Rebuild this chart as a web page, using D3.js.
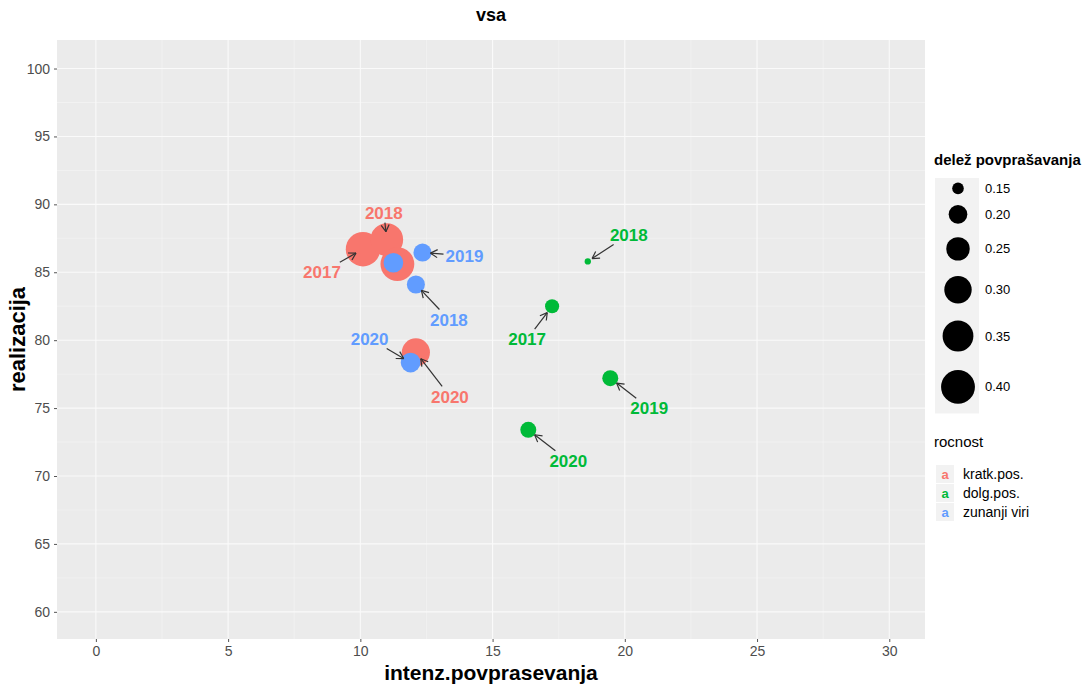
<!DOCTYPE html>
<html>
<head>
<meta charset="utf-8">
<script src="https://cdn.jsdelivr.net/npm/d3@7"></script>
<style>
  body { margin: 0; background: #fff; }
  text { font-family: "Liberation Sans", Arial, sans-serif; }
</style>
</head>
<body>
<div id="canvas"></div>
<script>
// data
var years = ['2017', '2018', '2019', '2020'];
var groups = ['kratk.pos.', 'dolg.pos.', 'zunanji viri'];
var groupColors = ['#F8766D', '#00BA38', '#619CFF'];

var intenzKratk = [10.1, 11.0, 11.4, 12.1];
var realKratk   = [86.7, 87.4, 85.6, 79.1];
var delezKratk  = [0.41, 0.38, 0.40, 0.31];

var intenzDolg = [17.25, 18.6, 19.45, 16.35];
var realDolg   = [82.5, 85.8, 77.2, 73.4];
var delezDolg  = [0.165, 0.13, 0.178, 0.178];

var intenzZun = [11.25, 12.1, 12.35, 11.9];
var realZun   = [85.7, 84.1, 86.45, 78.35];
var delezZun  = [0.21, 0.195, 0.195, 0.21];

// which points got a (repelled) label, and where it was pushed to (px)
var labelShown = [[1, 1, 0, 1], [1, 1, 1, 1], [0, 1, 1, 1]];
var labelNudge = [
  [[-41, 23], [-3, -27], null, [34, 44]],
  [[-25, 33], [41, -27], [39, 30], [40, 31]],
  [null, [33, 35], [42, 3], [-41, -24]]
];

var xTicks = [0, 5, 10, 15, 20, 25, 30];
var yTicks = [60, 65, 70, 75, 80, 85, 90, 95, 100];
var sizeBreaks = [0.15, 0.20, 0.25, 0.30, 0.35, 0.40];

var W = 1089, H = 684;
var panel = {left: 57, right: 925, top: 40, bottom: 639};

var svg = d3.select('#canvas').append('svg')
  .attr('width', W)
  .attr('height', H);

var x = d3.scaleLinear().domain([-1.47, 31.35]).range([panel.left, panel.right]);
var y = d3.scaleLinear().domain([58.0, 102.1]).range([panel.bottom, panel.top]);

// size: area proportional, like ggplot scale_size
var sizeT = d3.scaleLinear().domain([0.125, 0.42]).range([0, 1]).clamp(true);
var sizeR = d3.scaleLinear().domain([0, 1]).range([1, 17.5]);
var radius = function(v) { return sizeR(Math.sqrt(sizeT(v))); };

// panel background
svg.append('rect')
  .attr('x', panel.left)
  .attr('y', panel.top)
  .attr('width', panel.right - panel.left)
  .attr('height', panel.bottom - panel.top)
  .attr('fill', '#EBEBEB');

var grid = svg.append('g');
// minor grid
xTicks.slice(0, -1).forEach(function(t) {
  grid.append('line')
    .attr('x1', x(t + 2.5)).attr('x2', x(t + 2.5))
    .attr('y1', panel.top).attr('y2', panel.bottom)
    .attr('stroke', '#F5F5F5').attr('stroke-width', 0.6);
});
yTicks.slice(0, -1).forEach(function(t) {
  grid.append('line')
    .attr('y1', y(t + 2.5)).attr('y2', y(t + 2.5))
    .attr('x1', panel.left).attr('x2', panel.right)
    .attr('stroke', '#F5F5F5').attr('stroke-width', 0.6);
});
// major grid
xTicks.forEach(function(t) {
  grid.append('line')
    .attr('x1', x(t)).attr('x2', x(t))
    .attr('y1', panel.top).attr('y2', panel.bottom)
    .attr('stroke', '#FAFAFA').attr('stroke-width', 1.1);
});
yTicks.forEach(function(t) {
  grid.append('line')
    .attr('y1', y(t)).attr('y2', y(t))
    .attr('x1', panel.left).attr('x2', panel.right)
    .attr('stroke', '#FAFAFA').attr('stroke-width', 1.1);
});

// axes
var xAxis = svg.append('g')
  .attr('transform', 'translate(0,' + panel.bottom + ')')
  .call(d3.axisBottom(x).tickValues(xTicks).tickSize(3).tickPadding(4));
var yAxis = svg.append('g')
  .attr('transform', 'translate(' + panel.left + ',0)')
  .call(d3.axisLeft(y).tickValues(yTicks).tickSize(3).tickPadding(4));
[xAxis, yAxis].forEach(function(a) {
  a.select('.domain').remove();
  a.selectAll('.tick line').attr('stroke', '#555');
  a.selectAll('.tick text')
    .attr('fill', '#4D4D4D')
    .style('font-size', '14px')
    .style('font-family', '"Liberation Sans", Arial, sans-serif');
});

// titles
svg.append('text')
  .attr('x', (panel.left + panel.right) / 2)
  .attr('y', 21)
  .attr('text-anchor', 'middle')
  .style('font-size', '18px')
  .style('font-weight', 'bold')
  .text('vsa');

svg.append('text')
  .attr('x', (panel.left + panel.right) / 2)
  .attr('y', 680)
  .attr('text-anchor', 'middle')
  .style('font-size', '21px')
  .style('font-weight', 'bold')
  .text('intenz.povprasevanja');

svg.append('text')
  .attr('transform', 'translate(25,' + ((panel.top + panel.bottom) / 2) + ') rotate(-90)')
  .attr('text-anchor', 'middle')
  .style('font-size', '22px')
  .style('font-weight', 'bold')
  .text('realizacija');

// points
var series = [
  {xs: intenzKratk, ys: realKratk, ds: delezKratk},
  {xs: intenzDolg, ys: realDolg, ds: delezDolg},
  {xs: intenzZun, ys: realZun, ds: delezZun}
];

var points = svg.append('g');
series.forEach(function(s, gi) {
  years.forEach(function(yr, i) {
    points.append('circle')
      .attr('cx', x(s.xs[i]))
      .attr('cy', y(s.ys[i]))
      .attr('r', radius(s.ds[i]))
      .attr('fill', groupColors[gi]);
  });
});

// repelled labels with arrows
var labels = svg.append('g');
series.forEach(function(s, gi) {
  years.forEach(function(yr, i) {
    if (!labelShown[gi][i]) return;
    var px = x(s.xs[i]), py = y(s.ys[i]);
    var lx = px + labelNudge[gi][i][0], ly = py + labelNudge[gi][i][1];
    // segment from label box edge to near point
    var dx = px - lx, dy = py - ly;
    var len = Math.sqrt(dx * dx + dy * dy);
    var ux = dx / len, uy = dy / len;
    var hw = 21, hh = 10;
    var tBox = Math.min(hw / Math.abs(ux || 1e-6), hh / Math.abs(uy || 1e-6));
    var sx = lx + ux * tBox, sy = ly + uy * tBox;
    var endD = Math.min(radius(s.ds[i]) + 2, 8);
    var ex = px - ux * endD, ey = py - uy * endD;
    labels.append('line')
      .attr('x1', sx).attr('y1', sy)
      .attr('x2', ex).attr('y2', ey)
      .attr('stroke', '#333').attr('stroke-width', 1.2);
    // open arrow head
    var ang = Math.atan2(uy, ux), ah = 8, spread = Math.PI / 6;
    [-spread, spread].forEach(function(sp) {
      labels.append('line')
        .attr('x1', ex).attr('y1', ey)
        .attr('x2', ex - ah * Math.cos(ang + sp))
        .attr('y2', ey - ah * Math.sin(ang + sp))
        .attr('stroke', '#333').attr('stroke-width', 1.2);
    });
    labels.append('text')
      .attr('x', lx)
      .attr('y', ly)
      .attr('dy', '0.36em')
      .attr('text-anchor', 'middle')
      .attr('fill', groupColors[gi])
      .style('font-size', '17px')
      .style('font-weight', 'bold')
      .text(yr);
  });
});

// legend: size
var leg = svg.append('g');
leg.append('text')
  .attr('x', 934)
  .attr('y', 165)
  .style('font-size', '15px')
  .style('font-weight', 'bold')
  .text('delež povprašavanja');

var keyY = 178;
var keyCentres = [];
sizeBreaks.forEach(function(v) {
  var h = 2.9 * radius(v) + 4;
  keyCentres.push(keyY + h / 2);
  keyY += h;
});
leg.append('rect')
  .attr('x', 935).attr('y', 178)
  .attr('width', 44).attr('height', keyY - 178)
  .attr('fill', '#F2F2F2');
sizeBreaks.forEach(function(v, i) {
  leg.append('circle')
    .attr('cx', 958)
    .attr('cy', keyCentres[i])
    .attr('r', radius(v))
    .attr('fill', '#000');
  leg.append('text')
    .attr('x', 985)
    .attr('y', keyCentres[i])
    .attr('dy', '0.35em')
    .style('font-size', '13px')
    .text(d3.format('.2f')(v));
});

// legend: colour
leg.append('text')
  .attr('x', 934)
  .attr('y', 447)
  .style('font-size', '15px')
  .text('rocnost');

groups.forEach(function(g, i) {
  var cy = 474 + i * 19;
  leg.append('rect')
    .attr('x', 936).attr('y', cy - 9)
    .attr('width', 18).attr('height', 18)
    .attr('fill', '#F2F2F2');
  leg.append('text')
    .attr('x', 945).attr('y', cy)
    .attr('dy', '0.35em')
    .attr('text-anchor', 'middle')
    .attr('fill', groupColors[i])
    .style('font-size', '13px')
    .style('font-weight', 'bold')
    .text('a');
  leg.append('text')
    .attr('x', 963).attr('y', cy)
    .attr('dy', '0.35em')
    .style('font-size', '14px')
    .text(g);
});
</script>
</body>
</html>
